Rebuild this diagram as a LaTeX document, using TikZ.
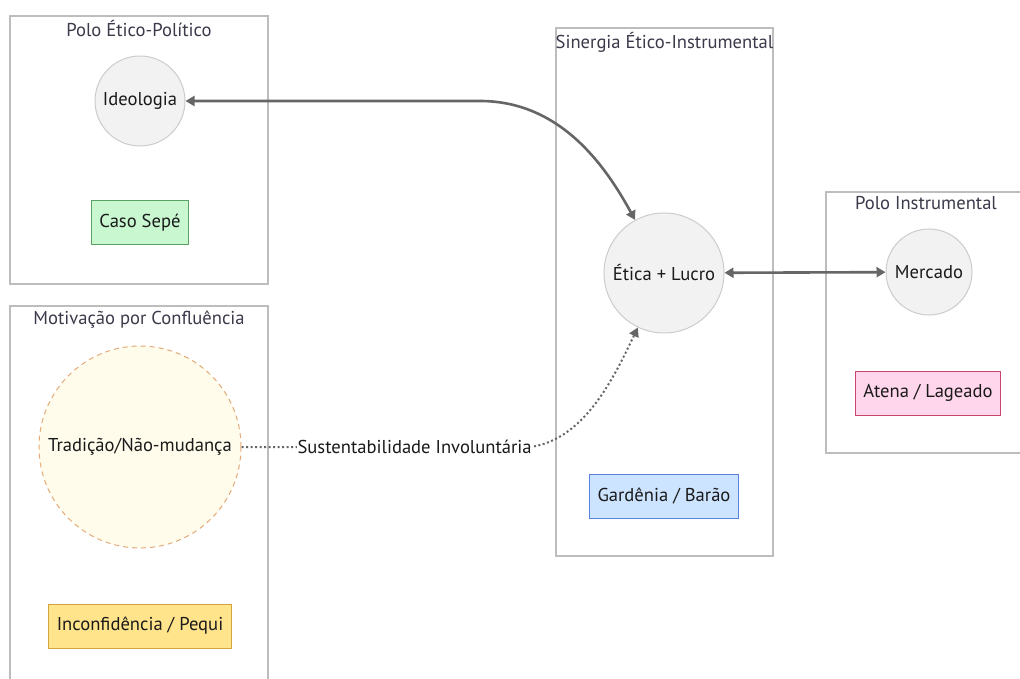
\documentclass[tikz,border=0pt]{standalone}
\usepackage{fontspec}
\setmainfont{PT Sans}
\usetikzlibrary{arrows.meta,positioning}

\definecolor{grpline}{HTML}{BDBDBD}
\definecolor{circfill}{HTML}{F2F2F2}
\definecolor{circline}{HTML}{CCCCCC}
\definecolor{linkgray}{HTML}{666666}
\definecolor{txtdark}{HTML}{1A1A1A}
\definecolor{txtgray}{HTML}{3A3A4A}

\begin{document}
\begin{tikzpicture}[x=1pt, y=-1pt, font=\fontsize{18.6}{22}\selectfont, text=txtdark,
    group/.style = {draw=grpline, fill=white, line width=1.2pt, inner sep=0pt},
    grptitle/.style = {anchor=north, text=txtgray, inner sep=0pt, yshift=-5pt},
    main/.style = {draw=circline, fill=circfill, circle, line width=1pt, inner sep=1pt},
    tag/.style = {draw, line width=1pt, minimum height=44pt, inner xsep=8pt},
    link/.style = {draw=linkgray, line width=2.6pt, {Triangle[length=9pt,width=10pt]}-{Triangle[length=9pt,width=10pt]}},
    soft/.style = {draw=linkgray, line width=2pt, dash pattern=on 2pt off 2.5pt, -{Triangle[length=9pt,width=10pt]}}]
    \useasboundingbox (0,0) rectangle (1020,679);

    % groups
    \node[group, minimum width=258pt, minimum height=268pt] (etico) at (139,150) {};
    \node[grptitle] (eticoT) at (etico.north) {Polo Ético-Político};
    \node[group, minimum width=258pt, minimum height=384pt] (motiv) at (139,498) {};
    \node[grptitle] (motivT) at (motiv.north) {Motivação por Confluência};
    \node[group, minimum width=217pt, minimum height=528pt] (siner) at (664.5,292) {};
    \node[grptitle] (sinerT) at (siner.north) {Sinergia Ético-Instrumental};
    \node[group, minimum width=200pt, minimum height=261pt] (instr) at (926,322.5) {};
    \node[grptitle] (instrT) at (instr.north) {Polo Instrumental};

    % nodes
    \node[main, minimum size=90pt] (ideo) at (140,101) {Ideologia};
    \node[tag, fill={rgb,255:red,200;green,247;blue,208}, draw={rgb,255:red,90;green,160;blue,100}] (sepe) at (140,223) {Caso Sepé};
    \node[main, minimum size=202pt, fill={rgb,255:red,255;green,252;blue,235}, draw={rgb,255:red,228;green,170;blue,120}, dash pattern=on 5pt off 4pt] (trad) at (140,447) {Tradição/Não-mudança};
    \node[tag, fill={rgb,255:red,255;green,228;blue,140}, draw={rgb,255:red,212;green,165;blue,60}] (pequi) at (140,626) {Inconfidência / Pequi};
    \node[main, minimum size=120pt] (lucro) at (664,273) {Ética + Lucro};
    \node[tag, fill={rgb,255:red,204;green,228;blue,255}, draw={rgb,255:red,90;green,130;blue,225}] (barao) at (664,496) {Gardênia / Barão};
    \node[main, minimum size=86pt] (merc) at (929,272) {Mercado};
    \node[tag, fill={rgb,255:red,255;green,214;blue,236}, draw={rgb,255:red,200;green,70;blue,110}] (atena) at (928,393) {Atena / Lageado};

    % connectors
    \draw[link] (ideo) -- (480,101) .. controls (560,101) and (605,165) .. (lucro);
    \draw[link] (lucro) -- (merc);
    \coordinate (bend) at (530,447);
    \draw[soft] (trad) -- node[pos=0.6, fill=white, inner xsep=1pt] (sust) {Sustentabilidade Involuntária} (bend) .. controls (585,440) and (615,375) .. (lucro);
\end{tikzpicture}
\end{document}
